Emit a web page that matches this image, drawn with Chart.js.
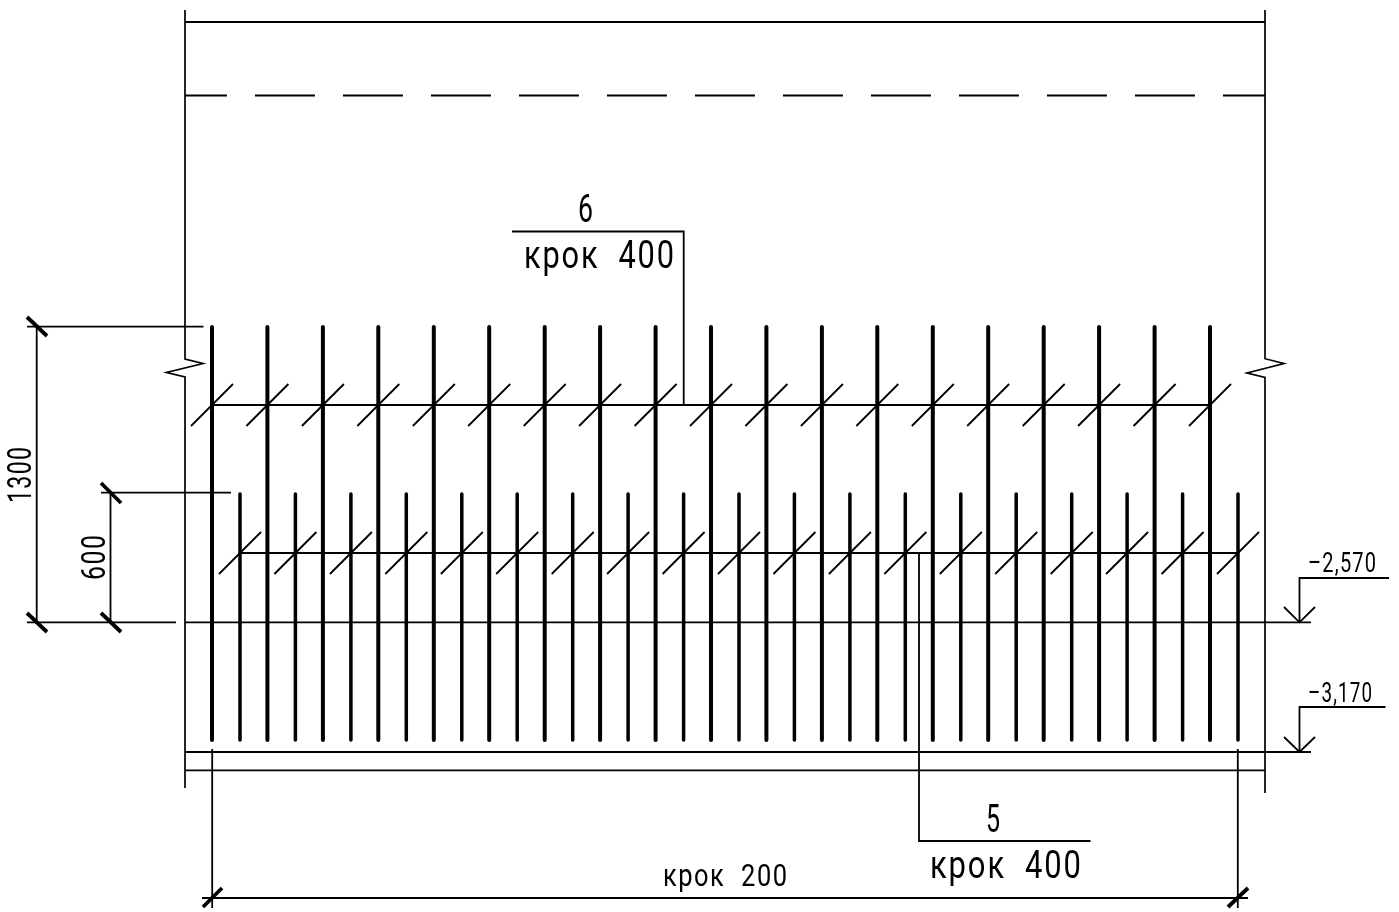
<!DOCTYPE html>
<html><head><meta charset="utf-8">
<style>html,body{margin:0;padding:0;background:#fff}canvas{display:block}</style>
<script src="https://cdn.jsdelivr.net/npm/chart.js@4"></script>
</head><body><canvas id="c" width="1399" height="912"></canvas>
<script>
// Rebar positions along the wall (drawing units)
const upperBarX=[212,267.4,322.9,378.3,433.8,489.2,544.7,600.1,655.6,711,766.4,821.9,877.3,932.8,988.2,1043.7,1099.1,1154.6,1210];
const lowerBarX=[240,295.4,350.9,406.3,461.8,517.2,572.7,628.1,683.6,739,794.4,849.9,905.3,960.8,1016.2,1071.7,1127.1,1182.6,1238];
const upperBarY=[327,740];
const lowerBarY=[494,740];
const upperRailY=405;
const lowerRailY=553;
const tickSpan=21;

// Outline polylines: [x,y,x,y,...]
const wallLeft=[185,10,185,359,203,363.5,166.5,372.5,185,377,185,788];
const wallRight=[1265,10,1265,358.7,1284,363.5,1247,373,1265,377.5,1265,793];
const thinLines=[
 [185,22,1265,22],
 [185,622.3,1311,622.3],[27,622.3,176,622.3],
 [27,326.7,203.5,326.7],[101,492.7,231,492.7],
 [36.7,326.7,36.7,622.3],[110.5,492.7,110.5,622.3],
 [185,752,1311,752],[185,770.3,1265,770.3],
 [212.2,749,212.2,908],[1237.8,749,1237.8,908],[202,898,1248,898],
 [512,231.5,683.7,231.5,683.7,405],
 [919,553,919,841,1090.5,841],
 [1389,578,1299.5,578,1299.5,622.3],[1284,607,1299.5,622.3,1315,607],
 [1385.5,707,1299.5,707,1299.5,752],[1284,737,1299.5,752,1315,737]
];
const heavyTicks=[
 [27,317,47,336],[27,613,47,632],[101,483,121,503],[101,613,121,632],
 [203,907,222,888],[1228,907,1248,888]
];
const dashedLine=[185,95.5,1265,95.5];

// Text: label, centre x, baseline y, digit height, fitted width, rotated
const labels=["6","крок  400","5","крок  400","крок  200","1300","600","–2,570","–3,170"];
const labelBoxes=[
 [585.5,222,27,15,0],[599,268,27,150,0],
 [993,832,27,14,0],[1005.5,878,27,151,0],
 [725,886,22,124,0],
 [31,475,23,56,1],[105,557.5,23,45,1],
 [1342,572,19,68,0],[1340,702,19,64,0]
];

function pts(a){const r=[];for(let i=0;i<a.length;i+=2)r.push({x:a[i],y:a[i+1]});return r;}
const line=(data,w,extra)=>Object.assign({data,borderColor:'#000',borderWidth:w,pointRadius:0,showLine:true,fill:false,tension:0},extra||{});
const datasets=[];
[wallLeft,wallRight].forEach(a=>datasets.push(line(pts(a),1.7)));
thinLines.forEach(a=>datasets.push(line(pts(a),1.8)));
heavyTicks.forEach(a=>datasets.push(line(pts(a),3.8)));
datasets.push(line(pts(dashedLine),2.1,{borderDash:[60,28],borderDashOffset:18}));
upperBarX.forEach(x=>{
  datasets.push(line(pts([x,upperBarY[0],x,upperBarY[1]]),4,{borderCapStyle:'round'}));
  datasets.push(line(pts([x-tickSpan,upperRailY+tickSpan,x+tickSpan,upperRailY-tickSpan]),1.8));
});
lowerBarX.forEach(x=>{
  datasets.push(line(pts([x,lowerBarY[0],x,lowerBarY[1]]),3.5,{borderCapStyle:'round'}));
  datasets.push(line(pts([x-tickSpan,lowerRailY+tickSpan,x+tickSpan,lowerRailY-tickSpan]),1.8));
});
datasets.push(line(pts([upperBarX[0],upperRailY,upperBarX[18],upperRailY]),2.2));
datasets.push(line(pts([lowerBarX[0],lowerRailY,lowerBarX[18],lowerRailY]),2.2));

const textPlugin={id:'drawingText',afterDatasetsDraw(chart){
  const ctx=chart.ctx,sx=chart.scales.x,sy=chart.scales.y;
  labels.forEach((t,i)=>{
    const [cx,by,h,w,rot]=labelBoxes[i];
    const size=h/0.711;
    ctx.save();
    ctx.font=`400 ${size}px Roboto`;
    const sp=t.length>1?size*0.06:0;
    ctx.letterSpacing=sp+'px';
    ctx.fillStyle='#000';ctx.textAlign='center';ctx.textBaseline='alphabetic';
    ctx.translate(sx.getPixelForValue(cx),sy.getPixelForValue(by));
    if(rot)ctx.rotate(-Math.PI/2);
    const m=ctx.measureText(t).width-sp;
    const k=w/m;
    ctx.scale(k,1);
    ctx.fillText(t,sp/2,0);
    ctx.restore();
  });
}};

new Chart(document.getElementById('c'),{
  type:'scatter',
  data:{datasets},
  plugins:[textPlugin],
  options:{
    responsive:false,animation:false,devicePixelRatio:1,
    layout:{padding:0},
    plugins:{legend:{display:false},tooltip:{enabled:false},title:{display:false}},
    scales:{
      x:{type:'linear',display:false,min:0,max:1399},
      y:{type:'linear',display:false,min:0,max:912,reverse:true}
    }
  }
});
</script></body></html>
